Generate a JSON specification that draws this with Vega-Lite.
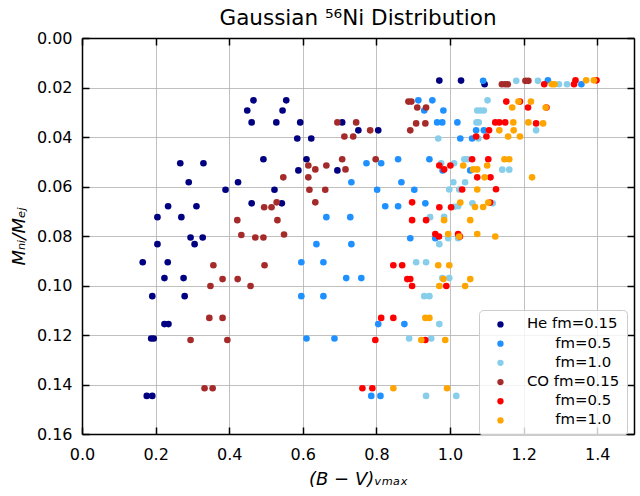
{
  "$schema": "https://vega.github.io/schema/vega-lite/v6.json",
  "width": 552,
  "height": 396,
  "autosize": {"type": "none"},
  "padding": {"left": 82, "top": 38, "right": 6, "bottom": 62},
  "background": "white",
  "title": {"text": "Gaussian ⁵⁶Ni Distribution", "fontSize": 21.5, "font": "DejaVu Sans", "fontWeight": "normal", "color": "black", "anchor": "middle", "frame": "group", "baseline": "alphabetic", "offset": -16},
  "config": {
    "view": {"stroke": null},
    "font": "DejaVu Sans"
  },
  "datasets": {
    "pts": [
      {"model":"He fm=0.15","x":0.466,"y":0.0252},{"model":"He fm=0.15","x":0.449,"y":0.0293},{"model":"He fm=0.15","x":0.461,"y":0.0341},{"model":"He fm=0.15","x":0.528,"y":0.0341},{"model":"He fm=0.15","x":0.545,"y":0.0293},{"model":"He fm=0.15","x":0.555,"y":0.0252},{"model":"He fm=0.15","x":0.493,"y":0.049},{"model":"He fm=0.15","x":0.267,"y":0.0506},{"model":"He fm=0.15","x":0.330,"y":0.0506},{"model":"He fm=0.15","x":0.290,"y":0.0583},{"model":"He fm=0.15","x":0.424,"y":0.0583},{"model":"He fm=0.15","x":0.390,"y":0.0613},{"model":"He fm=0.15","x":0.523,"y":0.0613},{"model":"He fm=0.15","x":0.461,"y":0.0668},{"model":"He fm=0.15","x":0.543,"y":0.0668},{"model":"He fm=0.15","x":0.234,"y":0.068},{"model":"He fm=0.15","x":0.311,"y":0.068},{"model":"He fm=0.15","x":0.205,"y":0.0724},{"model":"He fm=0.15","x":0.270,"y":0.0724},{"model":"He fm=0.15","x":0.295,"y":0.0806},{"model":"He fm=0.15","x":0.328,"y":0.0806},{"model":"He fm=0.15","x":0.205,"y":0.0833},{"model":"He fm=0.15","x":0.306,"y":0.0833},{"model":"He fm=0.15","x":0.165,"y":0.0906},{"model":"He fm=0.15","x":0.233,"y":0.0906},{"model":"He fm=0.15","x":0.224,"y":0.097},{"model":"He fm=0.15","x":0.276,"y":0.097},{"model":"He fm=0.15","x":0.191,"y":0.1043},{"model":"He fm=0.15","x":0.279,"y":0.1043},{"model":"He fm=0.15","x":0.224,"y":0.1156},{"model":"He fm=0.15","x":0.235,"y":0.1156},{"model":"He fm=0.15","x":0.188,"y":0.1214},{"model":"He fm=0.15","x":0.195,"y":0.1214},{"model":"He fm=0.15","x":0.176,"y":0.1446},{"model":"He fm=0.15","x":0.191,"y":0.1446},{"model":"He fm=0.15","x":0.593,"y":0.0341},{"model":"He fm=0.15","x":0.585,"y":0.0406},{"model":"He fm=0.15","x":0.623,"y":0.0406},{"model":"He fm=0.15","x":0.707,"y":0.0341},{"model":"He fm=0.15","x":0.751,"y":0.0373},{"model":"He fm=0.15","x":0.805,"y":0.0373},{"model":"He fm=0.15","x":0.610,"y":0.049},{"model":"He fm=0.15","x":0.588,"y":0.0535},{"model":"He fm=0.15","x":0.694,"y":0.0535},{"model":"He fm=0.15","x":0.971,"y":0.0172},{"model":"He fm=0.15","x":1.030,"y":0.0172},{"model":"He fm=0.15","x":1.094,"y":0.0187},
      {"model":"He fm=0.5","x":0.914,"y":0.0252},{"model":"He fm=0.5","x":0.952,"y":0.0252},{"model":"He fm=0.5","x":0.930,"y":0.0293},{"model":"He fm=0.5","x":0.982,"y":0.0293},{"model":"He fm=0.5","x":0.965,"y":0.0341},{"model":"He fm=0.5","x":0.979,"y":0.0341},{"model":"He fm=0.5","x":1.020,"y":0.0341},{"model":"He fm=0.5","x":1.028,"y":0.0406},{"model":"He fm=0.5","x":1.060,"y":0.0406},{"model":"He fm=0.5","x":0.773,"y":0.0506},{"model":"He fm=0.5","x":0.813,"y":0.0506},{"model":"He fm=0.5","x":0.859,"y":0.049},{"model":"He fm=0.5","x":0.944,"y":0.049},{"model":"He fm=0.5","x":0.980,"y":0.0535},{"model":"He fm=0.5","x":1.055,"y":0.0535},{"model":"He fm=0.5","x":0.732,"y":0.0583},{"model":"He fm=0.5","x":0.868,"y":0.0583},{"model":"He fm=0.5","x":0.802,"y":0.0613},{"model":"He fm=0.5","x":0.903,"y":0.0613},{"model":"He fm=0.5","x":0.933,"y":0.0668},{"model":"He fm=0.5","x":0.824,"y":0.068},{"model":"He fm=0.5","x":0.859,"y":0.068},{"model":"He fm=0.5","x":0.664,"y":0.0724},{"model":"He fm=0.5","x":0.729,"y":0.0724},{"model":"He fm=0.5","x":0.892,"y":0.0809},{"model":"He fm=0.5","x":0.960,"y":0.0809},{"model":"He fm=0.5","x":0.637,"y":0.0833},{"model":"He fm=0.5","x":0.732,"y":0.0833},{"model":"He fm=0.5","x":0.596,"y":0.0906},{"model":"He fm=0.5","x":0.656,"y":0.0906},{"model":"He fm=0.5","x":0.718,"y":0.097},{"model":"He fm=0.5","x":0.759,"y":0.097},{"model":"He fm=0.5","x":0.596,"y":0.1043},{"model":"He fm=0.5","x":0.656,"y":0.1043},{"model":"He fm=0.5","x":0.805,"y":0.1156},{"model":"He fm=0.5","x":0.876,"y":0.1156},{"model":"He fm=0.5","x":0.610,"y":0.1214},{"model":"He fm=0.5","x":0.686,"y":0.1214},{"model":"He fm=0.5","x":0.786,"y":0.1446},{"model":"He fm=0.5","x":0.811,"y":0.1446},{"model":"He fm=0.5","x":1.090,"y":0.0173},{"model":"He fm=0.5","x":1.266,"y":0.0171},{"model":"He fm=0.5","x":1.357,"y":0.0187},{"model":"He fm=0.5","x":1.071,"y":0.0373},{"model":"He fm=0.5","x":1.092,"y":0.0373},
      {"model":"He fm=1.0","x":0.968,"y":0.0406},{"model":"He fm=1.0","x":1.074,"y":0.0293},{"model":"He fm=1.0","x":1.072,"y":0.0341},{"model":"He fm=1.0","x":0.976,"y":0.0506},{"model":"He fm=1.0","x":1.011,"y":0.0506},{"model":"He fm=1.0","x":1.039,"y":0.049},{"model":"He fm=1.0","x":1.048,"y":0.049},{"model":"He fm=1.0","x":1.009,"y":0.0583},{"model":"He fm=1.0","x":1.041,"y":0.0583},{"model":"He fm=1.0","x":0.998,"y":0.0612},{"model":"He fm=1.0","x":1.025,"y":0.0612},{"model":"He fm=1.0","x":1.011,"y":0.0682},{"model":"He fm=1.0","x":1.022,"y":0.068},{"model":"He fm=1.0","x":1.061,"y":0.0668},{"model":"He fm=1.0","x":0.946,"y":0.0724},{"model":"He fm=1.0","x":0.984,"y":0.0722},{"model":"He fm=1.0","x":0.908,"y":0.0906},{"model":"He fm=1.0","x":0.935,"y":0.0906},{"model":"He fm=1.0","x":0.979,"y":0.097},{"model":"He fm=1.0","x":0.998,"y":0.097},{"model":"He fm=1.0","x":0.930,"y":0.1043},{"model":"He fm=1.0","x":0.944,"y":0.1043},{"model":"He fm=1.0","x":0.971,"y":0.1156},{"model":"He fm=1.0","x":0.889,"y":0.1214},{"model":"He fm=1.0","x":0.949,"y":0.1214},{"model":"He fm=1.0","x":0.935,"y":0.1446},{"model":"He fm=1.0","x":1.017,"y":0.1446},{"model":"He fm=1.0","x":0.971,"y":0.0833},{"model":"He fm=1.0","x":0.995,"y":0.0809},{"model":"He fm=1.0","x":1.022,"y":0.0809},{"model":"He fm=1.0","x":1.102,"y":0.0252},{"model":"He fm=1.0","x":1.083,"y":0.0293},{"model":"He fm=1.0","x":1.092,"y":0.0293},{"model":"He fm=1.0","x":1.078,"y":0.0341},{"model":"He fm=1.0","x":1.234,"y":0.0373},{"model":"He fm=1.0","x":1.077,"y":0.0406},{"model":"He fm=1.0","x":1.142,"y":0.0532},{"model":"He fm=1.0","x":1.161,"y":0.0532},{"model":"He fm=1.0","x":1.116,"y":0.0668},{"model":"He fm=1.0","x":1.180,"y":0.0173},{"model":"He fm=1.0","x":1.239,"y":0.0173},{"model":"He fm=1.0","x":1.296,"y":0.0187},{"model":"He fm=1.0","x":1.318,"y":0.0187},
      {"model":"CO fm=0.15","x":0.547,"y":0.0563},{"model":"CO fm=0.15","x":0.529,"y":0.0664},{"model":"CO fm=0.15","x":0.495,"y":0.0684},{"model":"CO fm=0.15","x":0.515,"y":0.0684},{"model":"CO fm=0.15","x":0.422,"y":0.0736},{"model":"CO fm=0.15","x":0.531,"y":0.0736},{"model":"CO fm=0.15","x":0.433,"y":0.0796},{"model":"CO fm=0.15","x":0.471,"y":0.0806},{"model":"CO fm=0.15","x":0.493,"y":0.0806},{"model":"CO fm=0.15","x":0.549,"y":0.0794},{"model":"CO fm=0.15","x":0.357,"y":0.0918},{"model":"CO fm=0.15","x":0.496,"y":0.0918},{"model":"CO fm=0.15","x":0.382,"y":0.0974},{"model":"CO fm=0.15","x":0.423,"y":0.0974},{"model":"CO fm=0.15","x":0.349,"y":0.1002},{"model":"CO fm=0.15","x":0.458,"y":0.1002},{"model":"CO fm=0.15","x":0.346,"y":0.1131},{"model":"CO fm=0.15","x":0.382,"y":0.1131},{"model":"CO fm=0.15","x":0.295,"y":0.122},{"model":"CO fm=0.15","x":0.395,"y":0.122},{"model":"CO fm=0.15","x":0.333,"y":0.1415},{"model":"CO fm=0.15","x":0.355,"y":0.1415},{"model":"CO fm=0.15","x":0.694,"y":0.0341},{"model":"CO fm=0.15","x":0.745,"y":0.0341},{"model":"CO fm=0.15","x":0.713,"y":0.0398},{"model":"CO fm=0.15","x":0.737,"y":0.0398},{"model":"CO fm=0.15","x":0.783,"y":0.0373},{"model":"CO fm=0.15","x":0.892,"y":0.0373},{"model":"CO fm=0.15","x":0.887,"y":0.0257},{"model":"CO fm=0.15","x":0.895,"y":0.0257},{"model":"CO fm=0.15","x":0.911,"y":0.0281},{"model":"CO fm=0.15","x":0.935,"y":0.0281},{"model":"CO fm=0.15","x":0.908,"y":0.0345},{"model":"CO fm=0.15","x":0.933,"y":0.0345},{"model":"CO fm=0.15","x":0.798,"y":0.049},{"model":"CO fm=0.15","x":0.707,"y":0.049},{"model":"CO fm=0.15","x":0.615,"y":0.0515},{"model":"CO fm=0.15","x":0.664,"y":0.0515},{"model":"CO fm=0.15","x":0.634,"y":0.0531},{"model":"CO fm=0.15","x":0.716,"y":0.0531},{"model":"CO fm=0.15","x":0.615,"y":0.0563},{"model":"CO fm=0.15","x":0.618,"y":0.0613},{"model":"CO fm=0.15","x":0.661,"y":0.0613},{"model":"CO fm=0.15","x":0.634,"y":0.0664},{"model":"CO fm=0.15","x":1.141,"y":0.0187},{"model":"CO fm=0.15","x":1.150,"y":0.0187},{"model":"CO fm=0.15","x":1.157,"y":0.0187},{"model":"CO fm=0.15","x":1.205,"y":0.0173},{"model":"CO fm=0.15","x":1.213,"y":0.0173},
      {"model":"CO fm=0.5","x":1.071,"y":0.0398},{"model":"CO fm=0.5","x":0.971,"y":0.0515},{"model":"CO fm=0.5","x":0.984,"y":0.0531},{"model":"CO fm=0.5","x":1.001,"y":0.0515},{"model":"CO fm=0.5","x":1.060,"y":0.049},{"model":"CO fm=0.5","x":1.074,"y":0.0563},{"model":"CO fm=0.5","x":1.033,"y":0.0612},{"model":"CO fm=0.5","x":0.897,"y":0.0664},{"model":"CO fm=0.5","x":0.971,"y":0.0684},{"model":"CO fm=0.5","x":1.003,"y":0.0684},{"model":"CO fm=0.5","x":0.897,"y":0.0736},{"model":"CO fm=0.5","x":0.935,"y":0.0736},{"model":"CO fm=0.5","x":0.960,"y":0.0792},{"model":"CO fm=0.5","x":1.022,"y":0.0792},{"model":"CO fm=0.5","x":0.813,"y":0.1131},{"model":"CO fm=0.5","x":0.846,"y":0.1131},{"model":"CO fm=0.5","x":0.797,"y":0.122},{"model":"CO fm=0.5","x":0.846,"y":0.0918},{"model":"CO fm=0.5","x":0.870,"y":0.0918},{"model":"CO fm=0.5","x":0.884,"y":0.0974},{"model":"CO fm=0.5","x":0.892,"y":0.0974},{"model":"CO fm=0.5","x":0.897,"y":0.1002},{"model":"CO fm=0.5","x":0.990,"y":0.1002},{"model":"CO fm=0.5","x":0.762,"y":0.1415},{"model":"CO fm=0.5","x":0.789,"y":0.1415},{"model":"CO fm=0.5","x":0.933,"y":0.122},{"model":"CO fm=0.5","x":0.970,"y":0.0802},{"model":"CO fm=0.5","x":1.027,"y":0.0802},{"model":"CO fm=0.5","x":1.153,"y":0.0257},{"model":"CO fm=0.5","x":1.190,"y":0.0257},{"model":"CO fm=0.5","x":1.212,"y":0.0281},{"model":"CO fm=0.5","x":1.262,"y":0.0281},{"model":"CO fm=0.5","x":1.123,"y":0.0341},{"model":"CO fm=0.5","x":1.134,"y":0.0341},{"model":"CO fm=0.5","x":1.150,"y":0.0341},{"model":"CO fm=0.5","x":1.234,"y":0.0345},{"model":"CO fm=0.5","x":1.106,"y":0.0373},{"model":"CO fm=0.5","x":1.099,"y":0.0398},{"model":"CO fm=0.5","x":1.104,"y":0.049},{"model":"CO fm=0.5","x":1.110,"y":0.0563},{"model":"CO fm=0.5","x":1.125,"y":0.0611},{"model":"CO fm=0.5","x":1.109,"y":0.0665},{"model":"CO fm=0.5","x":1.256,"y":0.0187},{"model":"CO fm=0.5","x":1.341,"y":0.0171},{"model":"CO fm=0.5","x":1.337,"y":0.0187},{"model":"CO fm=0.5","x":1.398,"y":0.0171},
      {"model":"CO fm=1.0","x":1.036,"y":0.0515},{"model":"CO fm=1.0","x":1.063,"y":0.0531},{"model":"CO fm=1.0","x":1.074,"y":0.0531},{"model":"CO fm=1.0","x":1.074,"y":0.0612},{"model":"CO fm=1.0","x":1.028,"y":0.0665},{"model":"CO fm=1.0","x":0.984,"y":0.0736},{"model":"CO fm=1.0","x":1.055,"y":0.0736},{"model":"CO fm=1.0","x":0.995,"y":0.0792},{"model":"CO fm=1.0","x":1.074,"y":0.0792},{"model":"CO fm=1.0","x":0.968,"y":0.0918},{"model":"CO fm=1.0","x":0.998,"y":0.0918},{"model":"CO fm=1.0","x":0.982,"y":0.0974},{"model":"CO fm=1.0","x":1.055,"y":0.0974},{"model":"CO fm=1.0","x":0.971,"y":0.1002},{"model":"CO fm=1.0","x":1.041,"y":0.1002},{"model":"CO fm=1.0","x":0.933,"y":0.1131},{"model":"CO fm=1.0","x":0.944,"y":0.1131},{"model":"CO fm=1.0","x":0.922,"y":0.122},{"model":"CO fm=1.0","x":0.987,"y":0.122},{"model":"CO fm=1.0","x":0.846,"y":0.1415},{"model":"CO fm=1.0","x":0.992,"y":0.1415},{"model":"CO fm=1.0","x":1.025,"y":0.0802},{"model":"CO fm=1.0","x":1.123,"y":0.0802},{"model":"CO fm=1.0","x":1.186,"y":0.0257},{"model":"CO fm=1.0","x":1.220,"y":0.0257},{"model":"CO fm=1.0","x":1.169,"y":0.0281},{"model":"CO fm=1.0","x":1.260,"y":0.0281},{"model":"CO fm=1.0","x":1.172,"y":0.0341},{"model":"CO fm=1.0","x":1.213,"y":0.0341},{"model":"CO fm=1.0","x":1.253,"y":0.0345},{"model":"CO fm=1.0","x":1.134,"y":0.0373},{"model":"CO fm=1.0","x":1.173,"y":0.0373},{"model":"CO fm=1.0","x":1.158,"y":0.0398},{"model":"CO fm=1.0","x":1.190,"y":0.0398},{"model":"CO fm=1.0","x":1.148,"y":0.049},{"model":"CO fm=1.0","x":1.161,"y":0.049},{"model":"CO fm=1.0","x":1.101,"y":0.0515},{"model":"CO fm=1.0","x":1.094,"y":0.0563},{"model":"CO fm=1.0","x":1.223,"y":0.0563},{"model":"CO fm=1.0","x":1.104,"y":0.0665},{"model":"CO fm=1.0","x":1.068,"y":0.0683},{"model":"CO fm=1.0","x":1.090,"y":0.0683},{"model":"CO fm=1.0","x":1.277,"y":0.0187},{"model":"CO fm=1.0","x":1.284,"y":0.0187},{"model":"CO fm=1.0","x":1.370,"y":0.0171},{"model":"CO fm=1.0","x":1.391,"y":0.0171}
    ]
  },
  "data": {"name": "pts"},
  "layer": [
    {
      "mark": {"type": "point", "filled": true, "size": 44, "opacity": 1, "strokeWidth": 0},
      "encoding": {
        "x": {"field": "x", "type": "quantitative", "scale": {"domain": [0, 1.5], "nice": false, "zero": false},
          "axis": {"orient": "bottom", "values": [0, 0.2, 0.4, 0.6, 0.8, 1.0, 1.2, 1.4], "format": ".1f", "title": "(B − V)ᵥₘₐₓ", "titleFontStyle": "italic", "titleFontWeight": "normal", "titleFontSize": 18, "titleFont": "DejaVu Sans", "titleColor": "black", "titlePadding": 8,
            "labelFont": "DejaVu Sans", "labelFontSize": 16, "labelColor": "black", "labelPadding": 19, "labelFlush": false, "labelOverlap": false,
            "tickSize": -7, "tickWidth": 1.5, "tickColor": "black", "domainColor": "black", "domainWidth": 1.5,
            "grid": true, "gridColor": "#b0b0b0", "gridWidth": 0.8}},
        "y": {"field": "y", "type": "quantitative", "scale": {"domain": [0, 0.16], "nice": false, "zero": false, "reverse": true},
          "axis": {"orient": "left", "values": [0, 0.02, 0.04, 0.06, 0.08, 0.1, 0.12, 0.14, 0.16], "format": ".2f", "title": "Mₙᵢ/Mₑⱼ", "titleFontStyle": "italic", "titleFontWeight": "normal", "titleFontSize": 18, "titleFont": "DejaVu Sans", "titleColor": "black", "titlePadding": 8,
            "labelFont": "DejaVu Sans", "labelFontSize": 16, "labelColor": "black", "labelPadding": 17, "labelFlush": false, "labelOverlap": false,
            "tickSize": -7, "tickWidth": 1.5, "tickColor": "black", "domainColor": "black", "domainWidth": 1.5,
            "grid": true, "gridColor": "#b0b0b0", "gridWidth": 0.8}},
        "color": {"field": "model", "type": "nominal",
          "scale": {"domain": ["He fm=0.15", "He fm=0.5", "He fm=1.0", "CO fm=0.15", "CO fm=0.5", "CO fm=1.0"], "range": ["#000080", "#1e90ff", "#87ceeb", "#a52a2a", "#ff0000", "#ffa500"]},
          "legend": {"title": null, "orient": "none", "legendX": 397, "legendY": 272, "labelFont": "DejaVu Sans", "labelFontSize": 14.9, "labelColor": "black", "labelLimit": 300,
            "labelExpr": "indexof(datum.label, 'fm=0.15') >= 0 ? datum.label : '\\u200b\\u00a0\\u00a0\\u00a0\\u00a0\\u00a0\\u00a0' + slice(datum.label, 3)",
            "symbolType": "circle", "symbolSize": 40, "symbolStrokeWidth": 0, "padding": 7, "rowPadding": 3.2, "labelOffset": 19, "symbolOffset": 7,
            "cornerRadius": 4, "strokeColor": "#cccccc", "fillColor": "rgba(255,255,255,0.8)"}}
      }
    },
    {
      "mark": {"type": "point", "opacity": 0},
      "encoding": {
        "x": {"field": "x", "type": "quantitative", "axis": {"orient": "top", "values": [0, 0.2, 0.4, 0.6, 0.8, 1.0, 1.2, 1.4], "labels": false, "title": null, "grid": false, "tickSize": -7, "tickWidth": 1.5, "tickColor": "black", "domainColor": "black", "domainWidth": 1.5}},
        "y": {"field": "y", "type": "quantitative", "axis": {"orient": "right", "values": [0, 0.02, 0.04, 0.06, 0.08, 0.1, 0.12, 0.14, 0.16], "labels": false, "title": null, "grid": false, "tickSize": -7, "tickWidth": 1.5, "tickColor": "black", "domainColor": "black", "domainWidth": 1.5}}
      }
    }
  ],
  "resolve": {"axis": {"x": "independent", "y": "independent"}}
}
